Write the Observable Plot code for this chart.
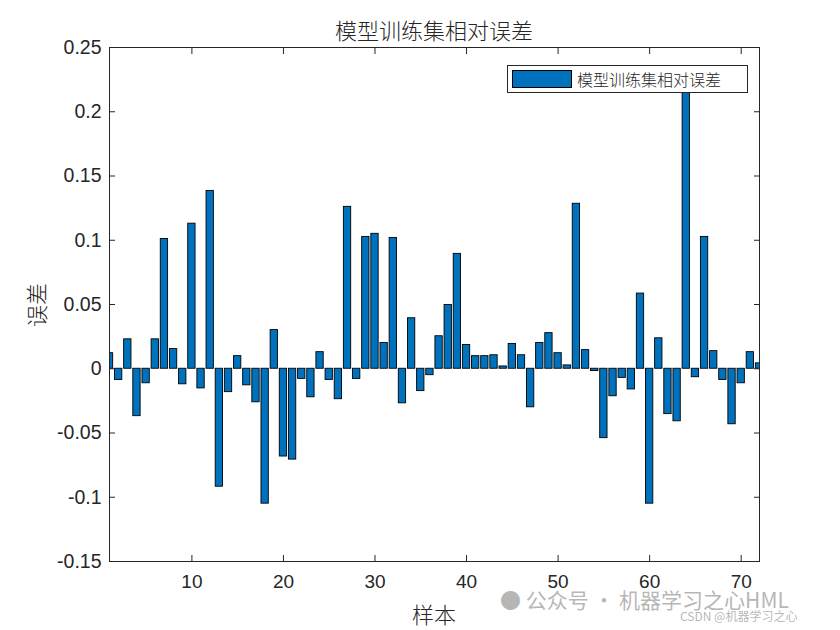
<!DOCTYPE html>
<html>
<head>
<meta charset="utf-8">
<script src="https://cdn.jsdelivr.net/npm/d3@7"></script>
<script src="https://cdn.jsdelivr.net/npm/@observablehq/plot@0.6"></script>
<style>
  html, body { margin: 0; padding: 0; background: #fff; }
  #wrap { position: relative; width: 840px; height: 630px; overflow: hidden; }
  .lbl { position: absolute; font-family: "Noto Sans CJK SC", sans-serif; color: #262626; white-space: nowrap; }
  #legend { position: absolute; left: 507px; top: 65px; width: 241px; height: 28px; border: 1px solid #262626; background: #fff; box-sizing: border-box; }
  #legend .sw { position: absolute; left: 4px; top: 4px; width: 60px; height: 18px; background: #0072BD; border: 1px solid #000; box-sizing: border-box; }
  #legend .tx { position: absolute; left: 69px; top: 1px; font-family: "Noto Sans CJK SC", sans-serif; font-size: 16px; font-weight: 300; color: #262626; }
  .wm { position: absolute; font-family: "Noto Sans CJK SC", sans-serif; color: rgba(150,150,150,0.7); white-space: nowrap; }
</style>
</head>
<body>
<div id="wrap"></div>
<script>
const title = "模型训练集相对误差";
const xLabel = "样本";
const yLabel = "误差";
const seriesName = "模型训练集相对误差";

const samples = d3.range(1, 73);
const errors = [
  0.0121, -0.0087, 0.0229, -0.0369, -0.0113, 0.0229, 0.1010, 0.0153, -0.0121, 0.1129,
  -0.0153, 0.1384, -0.0918, -0.0182, 0.0098, -0.0129, -0.0261, -0.1050, 0.0301, -0.0683,
  -0.0707, -0.0079, -0.0222, 0.0129, -0.0087, -0.0237, 0.1260, -0.0079, 0.1026, 0.1050,
  0.0200, 0.1018, -0.0269, 0.0393, -0.0174, -0.0050, 0.0253, 0.0496, 0.0894, 0.0185,
  0.0098, 0.0098, 0.0105, 0.0018, 0.0193, 0.0105, -0.0300, 0.0200, 0.0277, 0.0121,
  0.0026, 0.1284, 0.0145, -0.0018, -0.0540, -0.0214, -0.0071, -0.0161, 0.0585, -0.1050,
  0.0237, -0.0353, -0.0409, 0.2250, -0.0066, 0.1026, 0.0137, -0.0087, -0.0432, -0.0113,
  0.0129, 0.0042
];
const xTicks = [10, 20, 30, 40, 50, 60, 70];
const yTicks = [-0.15, -0.1, -0.05, 0, 0.05, 0.1, 0.15, 0.2, 0.25];
const yTickLabels = ["-0.15", "-0.1", "-0.05", "0", "0.05", "0.1", "0.15", "0.2", "0.25"];

const data = samples.map((s, i) => ({s, v: errors[i]}));
const barW = 0.8;

const chart = Plot.plot({
  width: 840,
  height: 630,
  marginLeft: 109,
  marginRight: 81,
  marginTop: 47,
  marginBottom: 69,
  style: {fontFamily: "'Liberation Sans', Arial, sans-serif", fontSize: "19px", color: "#262626", background: "#fff"},
  x: {domain: [1, 72]},
  y: {domain: [-0.15, 0.25]},
  marks: [
    Plot.rectY(data, {x1: d => d.s - barW / 2, x2: d => d.s + barW / 2, y: "v", fill: "#0072BD", stroke: "#000", strokeWidth: 0.9, clip: true}),
    Plot.frame({stroke: "#262626", strokeWidth: 1}),
    Plot.axisX(xTicks, {anchor: "bottom", tickSize: -6, tickPadding: 19, label: null, fontSize: 19, stroke: "#262626", color: "#262626"}),
    Plot.axisX(xTicks, {anchor: "top", tickSize: -6, tickFormat: () => "", label: null, stroke: "#262626"}),
    Plot.axisY(yTicks, {anchor: "left", tickSize: -6, tickPadding: 14, tickFormat: (d) => yTickLabels[yTicks.indexOf(d)], label: null, fontSize: 19.5, stroke: "#262626"}),
    Plot.axisY(yTicks, {anchor: "right", tickSize: -6, tickFormat: () => "", label: null, stroke: "#262626"})
  ]
});

const wrap = document.getElementById("wrap");
chart.style.position = "absolute";
chart.style.left = "0";
chart.style.top = "0";
wrap.appendChild(chart);

function addLabel(text, css) {
  const d = document.createElement("div");
  d.className = "lbl";
  d.textContent = text;
  Object.assign(d.style, css);
  wrap.appendChild(d);
  return d;
}
addLabel(title, {left: "434px", top: "13px", transform: "translateX(-50%)", fontSize: "22px", fontWeight: "300"});
addLabel(xLabel, {left: "434px", top: "597px", transform: "translateX(-50%)", fontSize: "22px", fontWeight: "300"});
addLabel(yLabel, {left: "35px", top: "305px", transform: "translate(-50%,-50%) rotate(-90deg)", fontSize: "22px", fontWeight: "300"});

const lg = document.createElement("div");
lg.id = "legend";
lg.innerHTML = '<div class="sw"></div><div class="tx"></div>';
lg.querySelector(".tx").textContent = seriesName;
wrap.appendChild(lg);

const wm1 = document.createElement("div");
wm1.className = "wm";
wm1.textContent = "● 公众号 · 机器学习之心HML";
Object.assign(wm1.style, {left: "500px", top: "584px", fontSize: "21px"});
wrap.appendChild(wm1);
const wm2 = document.createElement("div");
wm2.className = "wm";
wm2.textContent = "CSDN @机器学习之心";
Object.assign(wm2.style, {left: "680px", top: "607px", fontSize: "12px"});
wrap.appendChild(wm2);
</script>
</body>
</html>
